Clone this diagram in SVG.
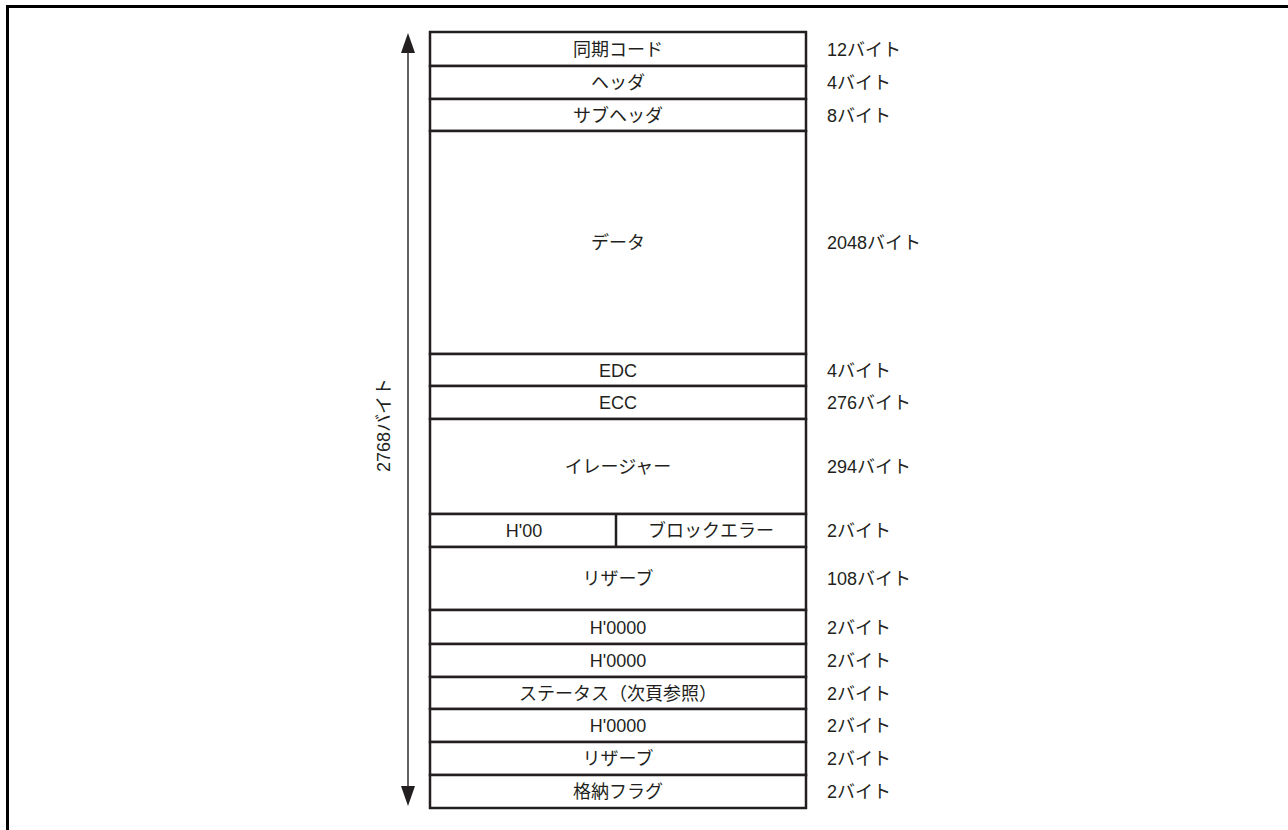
<svg xmlns="http://www.w3.org/2000/svg" width="1288" height="830" viewBox="0 0 1288 830">
<style>
.cell{fill:#fff;stroke:#231f20;stroke-width:2.5}
.t{font-family:"Liberation Sans","Noto Sans CJK JP",sans-serif;font-size:18px;fill:#231f20}
.c{text-anchor:middle}
.frame{fill:none;stroke:#000;stroke-width:3}
.arr{stroke:#231f20;stroke-width:1.4;fill:none}
.head{fill:#231f20}
</style>
<rect width="1288" height="830" fill="#fff"/>
<path class="frame" d="M7.5,830 V6.5 H1288"/>
<g id="connectors">
<line class="arr" x1="408" y1="52" x2="408" y2="787"/>
<polygon class="head" points="401,53 415,53 408,33"/>
<polygon class="head" points="401,786 415,786 408,806"/>
<text class="t c" transform="translate(390,425) rotate(-90)">2768バイト</text>
</g>
<g id="r1"><rect class="cell" x="430" y="32" width="376" height="34"/><text class="t c" x="618" y="55.5">同期コード</text><text class="t" x="827" y="55.5">12バイト</text></g>
<g id="r2"><rect class="cell" x="430" y="66" width="376" height="33"/><text class="t c" x="618" y="89">ヘッダ</text><text class="t" x="827" y="89">4バイト</text></g>
<g id="r3"><rect class="cell" x="430" y="99" width="376" height="32"/><text class="t c" x="618" y="121.5">サブヘッダ</text><text class="t" x="827" y="121.5">8バイト</text></g>
<g id="r4"><rect class="cell" x="430" y="131" width="376" height="223"/><text class="t c" x="618" y="249">データ</text><text class="t" x="827" y="249">2048バイト</text></g>
<g id="r5"><rect class="cell" x="430" y="354" width="376" height="32"/><text class="t c" x="618" y="376.5">EDC</text><text class="t" x="827" y="376.5">4バイト</text></g>
<g id="r6"><rect class="cell" x="430" y="386" width="376" height="33"/><text class="t c" x="618" y="409">ECC</text><text class="t" x="827" y="409">276バイト</text></g>
<g id="r7"><rect class="cell" x="430" y="419" width="376" height="95"/><text class="t c" x="618" y="473">イレージャー</text><text class="t" x="827" y="473">294バイト</text></g>
<g id="r8"><rect class="cell" x="430" y="514" width="376" height="33"/><line class="cell" x1="616" y1="513" x2="616" y2="547"/><text class="t c" x="524" y="537">H'00</text><text class="t c" x="711" y="537">ブロックエラー</text><text class="t" x="827" y="537">2バイト</text></g>
<g id="r9"><rect class="cell" x="430" y="547" width="376" height="63"/><text class="t c" x="618" y="585">リザーブ</text><text class="t" x="827" y="585">108バイト</text></g>
<g id="r10"><rect class="cell" x="430" y="610" width="376" height="34"/><text class="t c" x="618" y="633.5">H'0000</text><text class="t" x="827" y="633.5">2バイト</text></g>
<g id="r11"><rect class="cell" x="430" y="644" width="376" height="33"/><text class="t c" x="618" y="667">H'0000</text><text class="t" x="827" y="667">2バイト</text></g>
<g id="r12"><rect class="cell" x="430" y="677" width="376" height="32"/><text class="t c" x="618" y="699.5">ステータス（次頁参照）</text><text class="t" x="827" y="699.5">2バイト</text></g>
<g id="r13"><rect class="cell" x="430" y="709" width="376" height="33"/><text class="t c" x="618" y="732">H'0000</text><text class="t" x="827" y="732">2バイト</text></g>
<g id="r14"><rect class="cell" x="430" y="742" width="376" height="33"/><text class="t c" x="618" y="765">リザーブ</text><text class="t" x="827" y="765">2バイト</text></g>
<g id="r15"><rect class="cell" x="430" y="775" width="376" height="33"/><text class="t c" x="618" y="798">格納フラグ</text><text class="t" x="827" y="798">2バイト</text></g>
</svg>
